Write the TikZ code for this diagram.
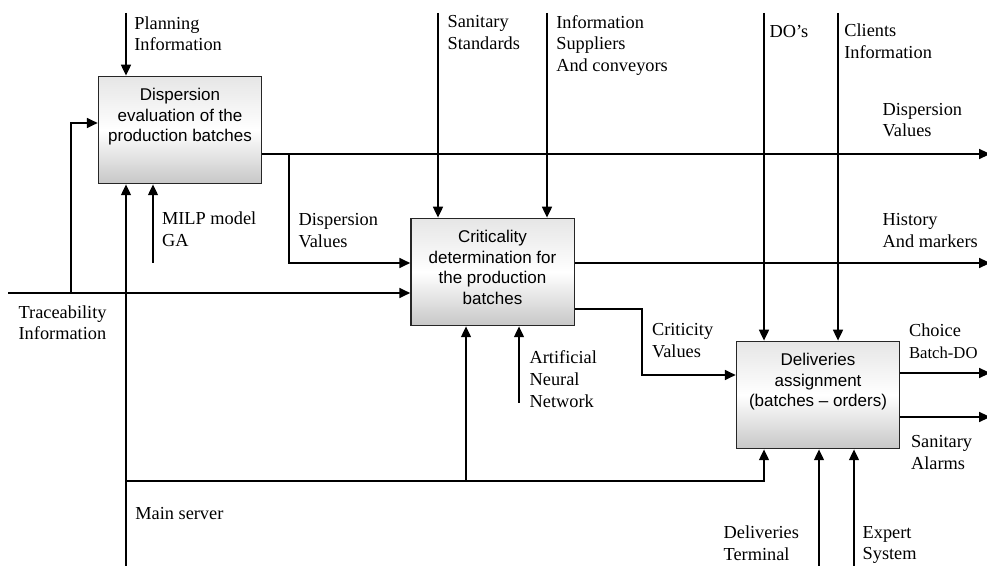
\documentclass[tikz,border=0pt]{standalone}
\usepackage{fontspec}
\setmainfont{Liberation Serif}
\newfontfamily\boxfont[Ligatures=TeX]{Liberation Sans}
\usetikzlibrary{arrows.meta,positioning}

\begin{document}
\begin{tikzpicture}[x=0.6pt,y=-0.6pt,
  procbox/.style={draw=black!85, line width=0.8pt, top color=black!10, bottom color=black!22, middle color=white, minimum width=98pt, minimum height=64.5pt, inner sep=0pt},
  boxtext/.style={anchor=north, inner sep=0pt, align=center, font=\boxfont\fontsize{10.2}{12.3}\selectfont},
  lbl/.style={anchor=north west, inner sep=0pt, align=left, font=\fontsize{11}{13}\selectfont},
  flow/.style={line width=0.9pt, -{Triangle[length=6.5pt, width=6pt]}},
  wire/.style={line width=0.9pt}]
\useasboundingbox (0,0) rectangle (987,566);

\node[procbox] (disp) at (180,130) {};
\node[procbox] (crit) at (492.5,272) {};
\node[procbox] (deliv) at (818,395) {};
\node[boxtext] (disptext) at ([yshift=-7.6pt]disp.north) {Dispersion\\evaluation of the\\production batches};
\node[boxtext] (crittext) at ([yshift=-7.4pt]crit.north) {Criticality\\determination for\\the production\\batches};
\node[boxtext] (delivtext) at ([yshift=-7.6pt]deliv.north) {Deliveries\\assignment\\(batches – orders)};

\coordinate (planin) at (126,13);
\coordinate (tracein) at (8,293);
\coordinate (tracebr) at (71,293);
\coordinate (milpin) at (153,263);
\coordinate (srvin) at (126,566);
\coordinate (srvbus) at (126,481);
\coordinate (srvbr) at (466,481);
\coordinate (dispbr) at (289,154);
\coordinate (dispout) at (990,154);
\coordinate (sanin) at (438,13);
\coordinate (infoin) at (547,13);
\coordinate (annin) at (519,403);
\coordinate (histout) at (990,263);
\coordinate (critbend) at (642,375);
\coordinate (doin) at (764,13);
\coordinate (clientin) at (838,13);
\coordinate (choiceout) at (990,373);
\coordinate (alarmout) at (990,417);
\coordinate (termin) at (819,566);
\coordinate (expertin) at (854,566);

\draw[flow] (planin) -- (planin |- disp.north);
\draw[flow] (tracein) -- (tracein -| crit.west);
\draw[flow] (tracebr) |- (disp.west |- 0,123);
\draw[flow] (milpin) -- (milpin |- disp.south);
\draw[flow] (srvin) -- (srvin |- disp.south);
\draw[flow] (srvbus) -| (764,0 |- deliv.south);
\draw[flow] (srvbr) -- (srvbr |- crit.south);
\draw[flow] (disp.east |- dispout) -- (dispout);
\draw[flow] (dispbr) |- (crit.west |- 0,263);
\draw[flow] (sanin) -- (sanin |- crit.north);
\draw[flow] (infoin) -- (infoin |- crit.north);
\draw[flow] (annin) -- (annin |- crit.south);
\draw[flow] (crit.east |- histout) -- (histout);
\draw[flow] (crit.east |- 0,309) -| (critbend) -- (critbend -| deliv.west);
\draw[flow] (doin) -- (doin |- deliv.north);
\draw[flow] (clientin) -- (clientin |- deliv.north);
\draw[flow] (deliv.east |- choiceout) -- (choiceout);
\draw[flow] (deliv.east |- alarmout) -- (alarmout);
\draw[flow] (termin) -- (termin |- deliv.south);
\draw[flow] (expertin) -- (expertin |- deliv.south);

\node[lbl] (planlbl) at (134,16) {Planning\\Information};
\node[lbl] (milplbl) at (161.7,211.5) {MILP model\\GA};
\node[lbl] (dvallbl) at (298.3,213.5) {Dispersion\\Values};
\node[lbl] (tracelbl) at (18.3,305) {Traceability\\Information};
\node[lbl] (srvlbl) at (135,507) {Main server};
\node[lbl] (sanlbl) at (447.3,15) {Sanitary\\Standards};
\node[lbl] (infolbl) at (556,15) {Information\\Suppliers\\And conveyors};
\node[lbl] (dolbl) at (769.3,25) {DO’s};
\node[lbl] (clientlbl) at (844,23.3) {Clients\\Information};
\node[lbl] (dvalrlbl) at (882.3,102.7) {Dispersion\\Values};
\node[lbl] (histlbl) at (882.3,213.3) {History\\And markers};
\node[lbl] (critlbl) at (651.7,323.3) {Criticity\\Values};
\node[lbl] (annlbl) at (529.3,350.7) {Artificial\\Neural\\Network};
\node[lbl] (choicelbl) at (908.7,323.3) {Choice\\{\fontsize{10}{12}\selectfont Batch-DO}};
\node[lbl] (alarmlbl) at (910.7,435.3) {Sanitary\\Alarms};
\node[lbl] (termlbl) at (723.3,525.7) {Deliveries\\Terminal};
\node[lbl] (expertlbl) at (862.3,525.7) {Expert\\System};
\end{tikzpicture}
\end{document}
